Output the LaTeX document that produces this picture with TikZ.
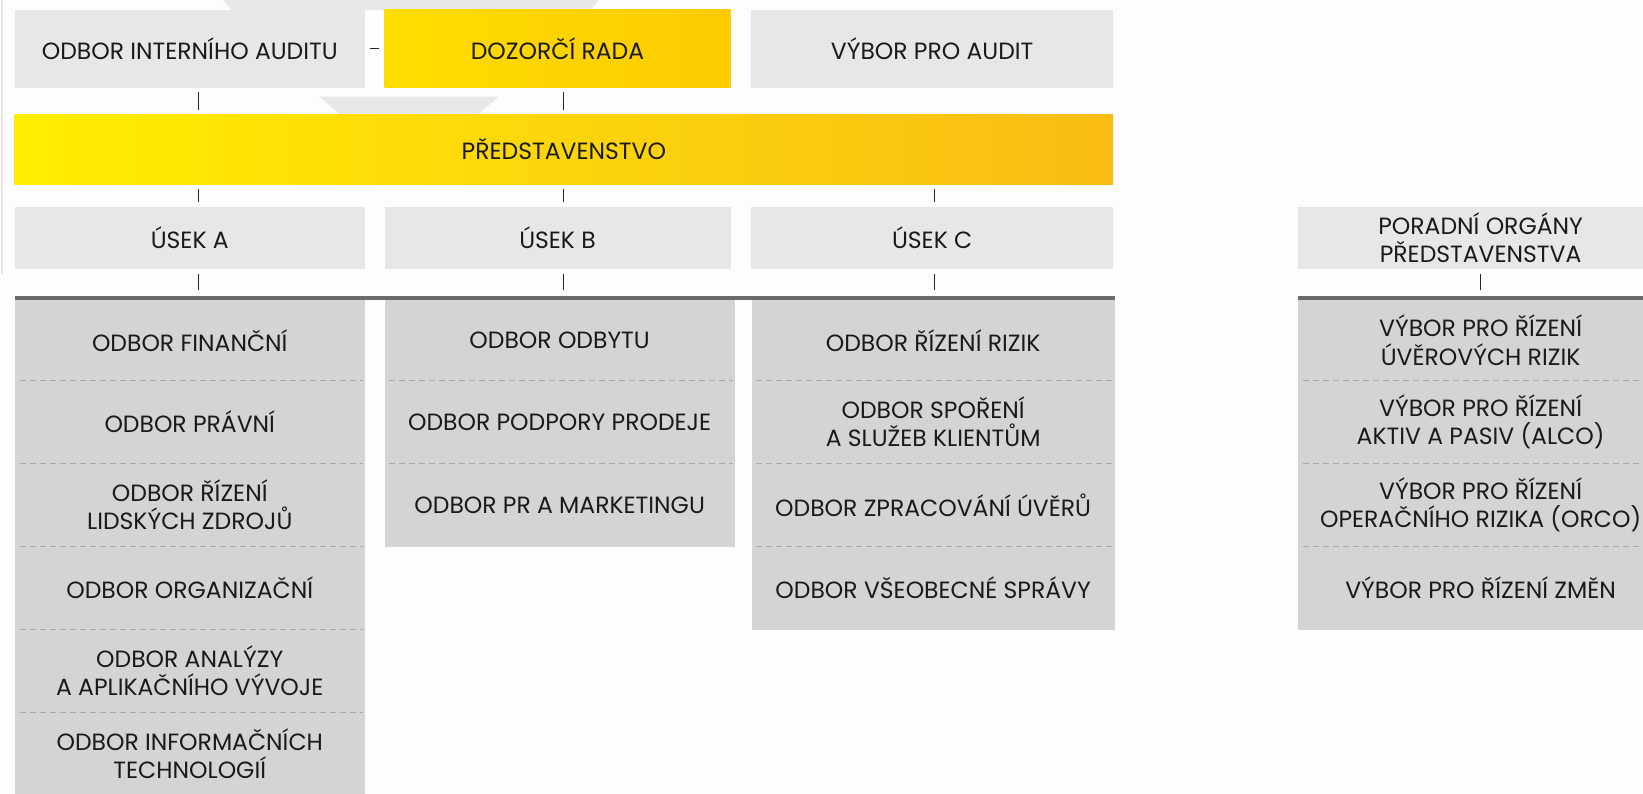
\documentclass[tikz,border=0pt]{standalone}
\usepackage{fontspec}
\setmainfont{Poppins}
\usetikzlibrary{calc}
\definecolor{bg}{HTML}{FDFDFD}
\definecolor{boxgrey}{HTML}{E6E7E8}
\definecolor{subgrey}{HTML}{D3D4D6}
\definecolor{bargrey}{HTML}{6B6B6B}
\definecolor{dashgrey}{HTML}{A8A9AB}
\definecolor{decogrey}{HTML}{E8E8E8}
\definecolor{ylA}{HTML}{FFEE00}
\definecolor{ylB}{HTML}{FFD800}
\definecolor{ylC}{HTML}{F9BC14}
\definecolor{ylD}{HTML}{FFDD00}
\definecolor{ylE}{HTML}{FDCB00}
\definecolor{txt}{HTML}{1A1A1A}
\tikzset{
  lab/.style={font=\fontsize{23.5}{28.5}\selectfont, text=txt, align=center, inner sep=0pt, rectangle},
  headbox/.style={lab, fill=boxgrey},
  subbox/.style={lab, fill=subgrey},
  barbox/.style={fill=bargrey, inner sep=0pt, minimum height=4.5pt},
  tick/.style={draw=black!85, line width=1pt},
  divider/.style={draw=dashgrey, line width=1pt, dash pattern=on 6pt off 4pt},
  deco/.style={fill=decogrey}
}
\begin{document}
\begin{tikzpicture}[x=1pt,y=-1pt]
\useasboundingbox (0,0) rectangle (1643,793);
\clip (0,0) rectangle (1643,793);
\fill[bg] (0,0) rectangle (1643,793);
% decorative background shapes
\fill[deco] (223,0) -- (599,0) -- (590,10) -- (232,10) -- cycle;
\fill[deco] (319.6,96.5) -- (498.8,96.5) -- (476.8,115) -- (340.5,115) -- cycle;
\draw[decogrey, line width=2pt] (1.5,0) -- (1.5,274);

% top row
\node[headbox, minimum width=350.1pt, minimum height=78pt] (oia) at (189.75,48.5) {ODBOR INTERNÍHO AUDITU};
\node[lab, left color=ylD, right color=ylE, minimum width=346pt, minimum height=78pt] (dr) at (557.5,48.5) {DOZORČÍ RADA};
\node[headbox, minimum width=361.7pt, minimum height=78pt] (vpa) at (932.15,48.5) {VÝBOR PRO AUDIT};

% board
\node[lab, left color=ylA, middle color=ylB, right color=ylC, minimum width=1098.3pt, minimum height=70pt] (pred) at (563.85,149.5) {PŘEDSTAVENSTVO};

% divisions
\node[headbox, minimum width=350.1pt, minimum height=62.8pt] (usA) at (189.75,237.9) {ÚSEK A};
\node[headbox, minimum width=346pt, minimum height=62.8pt] (usB) at (557.5,237.9) {ÚSEK B};
\node[headbox, minimum width=361.7pt, minimum height=62.8pt] (usC) at (932.15,237.9) {ÚSEK C};
\node[headbox, minimum width=364.8pt, minimum height=62.8pt] (por) at (1480.6,237.9) {PORADNÍ ORGÁNY\\PŘEDSTAVENSTVA};

% bars
\node[barbox, minimum width=1100.1pt] (barL) at (564.75,297.75) {};
\node[barbox, minimum width=364.8pt] (barR) at (1480.6,297.75) {};

% tick positions
\coordinate (xA) at (198,0);
\coordinate (xB) at (563,0);
\coordinate (xC) at (934,0);
\coordinate (xR) at (1480.6,0);

% connectors
\draw[tick] ($(oia.east)+(5,0)$) -- ($(dr.west)+(-5,0)$);
\draw[tick] ($(oia.south -| xA)+(0,4.5)$) -- ($(pred.north -| xA)+(0,-4.5)$);
\draw[tick] ($(dr.south -| xB)+(0,4.5)$) -- ($(pred.north -| xB)+(0,-4.5)$);
\draw[tick] ($(pred.south -| xA)+(0,4)$) -- ($(usA.north -| xA)+(0,-4.5)$);
\draw[tick] ($(pred.south -| xB)+(0,4)$) -- ($(usB.north -| xB)+(0,-4.5)$);
\draw[tick] ($(pred.south -| xC)+(0,4)$) -- ($(usC.north -| xC)+(0,-4.5)$);
\draw[tick] ($(usA.south -| xA)+(0,4.7)$) -- ($(barL.north -| xA)+(0,-5.5)$);
\draw[tick] ($(usB.south -| xB)+(0,4.7)$) -- ($(barL.north -| xB)+(0,-5.5)$);
\draw[tick] ($(usC.south -| xC)+(0,4.7)$) -- ($(barL.north -| xC)+(0,-5.5)$);
\draw[tick] ($(por.south -| xR)+(0,4.7)$) -- ($(barR.north -| xR)+(0,-5.5)$);

% column A
\node[subbox, minimum width=350.1pt, minimum height=80.4pt] (a1) at (189.75,340.2) {ODBOR FINANČNÍ};
\node[subbox, minimum width=350.1pt, minimum height=83pt] (a2) at (189.75,421.9) {ODBOR PRÁVNÍ};
\node[subbox, minimum width=350.1pt, minimum height=83pt] (a3) at (189.75,504.9) {ODBOR ŘÍZENÍ\\LIDSKÝCH ZDROJŮ};
\node[subbox, minimum width=350.1pt, minimum height=83pt] (a4) at (189.75,587.9) {ODBOR ORGANIZAČNÍ};
\node[subbox, minimum width=350.1pt, minimum height=83pt] (a5) at (189.75,670.9) {ODBOR ANALÝZY\\A APLIKAČNÍHO VÝVOJE};
\node[subbox, minimum width=350.1pt, minimum height=83pt] (a6) at (189.75,753.9) {ODBOR INFORMAČNÍCH\\TECHNOLOGIÍ};

% column B
\node[subbox, minimum width=350.3pt, minimum height=80.4pt] (b1) at (559.65,340.2) {ODBOR ODBYTU};
\node[subbox, minimum width=350.3pt, minimum height=83pt] (b2) at (559.65,421.9) {ODBOR PODPORY PRODEJE};
\node[subbox, minimum width=350.3pt, minimum height=84pt] (b3) at (559.65,505.4) {ODBOR PR A MARKETINGU};

% column C
\node[subbox, minimum width=363.3pt, minimum height=80.4pt] (c1) at (933.15,340.2) {ODBOR ŘÍZENÍ RIZIK};
\node[subbox, minimum width=363.3pt, minimum height=83pt] (c2) at (933.15,421.9) {ODBOR SPOŘENÍ\\A SLUŽEB KLIENTŮM};
\node[subbox, minimum width=363.3pt, minimum height=83pt] (c3) at (933.15,504.9) {ODBOR ZPRACOVÁNÍ ÚVĚRŮ};
\node[subbox, minimum width=363.3pt, minimum height=84pt] (c4) at (933.15,587.9) {ODBOR VŠEOBECNÉ SPRÁVY};

% right column
\node[subbox, minimum width=364.8pt, minimum height=80.4pt] (r1) at (1480.6,340.2) {VÝBOR PRO ŘÍZENÍ\\ÚVĚROVÝCH RIZIK};
\node[subbox, minimum width=364.8pt, minimum height=83pt] (r2) at (1480.6,421.9) {VÝBOR PRO ŘÍZENÍ\\AKTIV A PASIV (ALCO)};
\node[subbox, minimum width=364.8pt, minimum height=83pt] (r3) at (1480.6,504.9) {VÝBOR PRO ŘÍZENÍ\\OPERAČNÍHO RIZIKA (ORCO)};
\node[subbox, minimum width=364.8pt, minimum height=84pt] (r4) at (1480.6,587.9) {VÝBOR PRO ŘÍZENÍ ZMĚN};

% dashed dividers
\foreach \n in {a1,a2,a3,a4,a5,b1,b2,c1,c2,c3,r1,r2,r3}{
  \draw[divider] ($(\n.south west)+(5,0)$) -- ($(\n.south east)+(-2,0)$);
}
\end{tikzpicture}
\end{document}
